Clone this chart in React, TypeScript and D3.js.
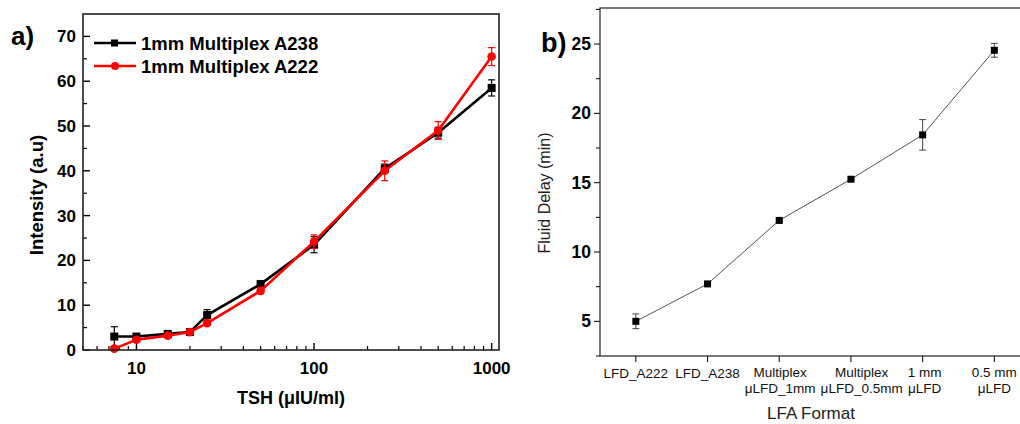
import { useEffect, useRef } from 'react';
import * as d3 from 'd3';

// panel a) TSH concentration vs intensity
const tsh = [7.5, 10, 15, 20, 25, 50, 100, 250, 500, 1000];
const a238 = [3.0, 3.0, 3.6, 4.0, 7.8, 14.7, 23.5, 40.5, 48.5, 58.5];
const a238Err = [2.2, 0.5, 0.5, 0.6, 1.2, 0.8, 1.8, 1.0, 1.2, 1.8];
const a222 = [0.3, 2.3, 3.2, 4.0, 6.0, 13.2, 24.2, 40.0, 49.0, 65.5];
const a222Err = [0.3, 0.5, 0.4, 0.5, 0.5, 0.6, 1.5, 2.2, 2.0, 2.0];
const seriesNames = ['1mm Multiplex A238', '1mm Multiplex A222'];
const xTicksA = [10, 100, 1000];
const yTicksA = [0, 10, 20, 30, 40, 50, 60, 70];

// panel b) fluid delay per LFA format
const formats = [
  ['LFD_A222'],
  ['LFD_A238'],
  ['Multiplex', 'μLFD_1mm'],
  ['Multiplex', 'μLFD_0.5mm'],
  ['1 mm', 'μLFD'],
  ['0.5 mm', 'μLFD'],
];
const delay = [5.0, 7.7, 12.28, 15.25, 18.45, 24.55];
const delayErr = [0.53, 0.1, 0.1, 0.1, 1.1, 0.5];
const yTicksB = [5, 10, 15, 20, 25];

const font = 'Arial, "Liberation Sans", sans-serif';

const App = () => {
  const svgRef = useRef(null);

  useEffect(() => {
    const svg = d3.select(svgRef.current);
    svg.selectAll('*').remove();

    // ---------- panel a ----------
    const x = d3.scaleLog().domain([5, 1100]).range([83, 499]);
    const y = d3.scaleLinear().domain([0, 75]).range([350, 14]);
    const ga = svg.append('g');

    // minor ticks (inward)
    const minorX: number[] = [];
    for (let dec = 1; dec <= 100; dec *= 10) {
      for (let m = 2; m < 10; m++) {
        const v = m * dec;
        if (v >= 5 && v <= 1100) minorX.push(v);
      }
    }
    ga.selectAll('.mx').data(minorX).enter().append('line')
      .attr('x1', d => x(d)).attr('x2', d => x(d))
      .attr('y1', 350).attr('y2', 346).attr('stroke', '#000').attr('stroke-width', 1.2);
    ga.selectAll('.Mx').data(xTicksA).enter().append('line')
      .attr('x1', d => x(d)).attr('x2', d => x(d))
      .attr('y1', 350).attr('y2', 343).attr('stroke', '#000').attr('stroke-width', 1.4);
    ga.selectAll('.my').data(d3.range(5, 75, 10)).enter().append('line')
      .attr('x1', 83).attr('x2', 87).attr('y1', d => y(d)).attr('y2', d => y(d))
      .attr('stroke', '#000').attr('stroke-width', 1.2);
    ga.selectAll('.My').data(yTicksA).enter().append('line')
      .attr('x1', 83).attr('x2', 90).attr('y1', d => y(d)).attr('y2', d => y(d))
      .attr('stroke', '#000').attr('stroke-width', 1.4);

    ga.selectAll('.xl').data(xTicksA).enter().append('text')
      .attr('x', d => x(d)).attr('y', 374).attr('text-anchor', 'middle')
      .attr('font-family', font).attr('font-weight', 'bold').attr('font-size', 17)
      .text(d => d);
    ga.selectAll('.yl').data(yTicksA).enter().append('text')
      .attr('x', 76).attr('y', d => y(d) + 6).attr('text-anchor', 'end')
      .attr('font-family', font).attr('font-weight', 'bold').attr('font-size', 17)
      .text(d => d);

    ga.append('text').attr('x', 291).attr('y', 404).attr('text-anchor', 'middle')
      .attr('font-family', font).attr('font-weight', 'bold').attr('font-size', 18)
      .text('TSH (μIU/ml)');
    ga.append('text').attr('transform', 'translate(43,195) rotate(-90)').attr('text-anchor', 'middle')
      .attr('font-family', font).attr('font-weight', 'bold').attr('font-size', 18.5)
      .text('Intensity (a.u)');
    ga.append('text').attr('x', 11).attr('y', 45)
      .attr('font-family', font).attr('font-weight', 'bold').attr('font-size', 26)
      .text('a)');

    const drawSeries = (vals: number[], errs: number[], color: string, marker: string) => {
      const line = d3.line<number>().x((_, i) => x(tsh[i])).y(d => y(d));
      ga.append('path').datum(vals).attr('d', line).attr('fill', 'none')
        .attr('stroke', color).attr('stroke-width', 2.6);
      const eg = ga.append('g').attr('stroke', color).attr('stroke-width', 1.2);
      vals.forEach((v, i) => {
        const cx = x(tsh[i]);
        eg.append('line').attr('x1', cx).attr('x2', cx).attr('y1', y(v - errs[i])).attr('y2', y(v + errs[i]));
        eg.append('line').attr('x1', cx - 3.5).attr('x2', cx + 3.5).attr('y1', y(v - errs[i])).attr('y2', y(v - errs[i]));
        eg.append('line').attr('x1', cx - 3.5).attr('x2', cx + 3.5).attr('y1', y(v + errs[i])).attr('y2', y(v + errs[i]));
      });
      if (marker === 'square') {
        ga.selectAll(null).data(vals).enter().append('rect')
          .attr('x', (_, i) => x(tsh[i]) - 4).attr('y', d => y(d) - 4)
          .attr('width', 8).attr('height', 8).attr('fill', color);
      } else {
        ga.selectAll(null).data(vals).enter().append('circle')
          .attr('cx', (_, i) => x(tsh[i])).attr('cy', d => y(d)).attr('r', 4.3).attr('fill', color);
      }
    };
    drawSeries(a238, a238Err, '#000', 'square');
    drawSeries(a222, a222Err, '#f00', 'circle');

    // legend
    const leg = [
      { name: seriesNames[0], color: '#000', marker: 'square' },
      { name: seriesNames[1], color: '#f00', marker: 'circle' },
    ];
    leg.forEach((l, i) => {
      const ly = 43 + i * 23;
      ga.append('line').attr('x1', 94).attr('x2', 136).attr('y1', ly).attr('y2', ly)
        .attr('stroke', l.color).attr('stroke-width', 2.6);
      if (l.marker === 'square') {
        ga.append('rect').attr('x', 111).attr('y', ly - 3.5).attr('width', 7).attr('height', 7).attr('fill', l.color);
      } else {
        ga.append('circle').attr('cx', 115).attr('cy', ly).attr('r', 4).attr('fill', l.color);
      }
      ga.append('text').attr('x', 141).attr('y', ly + 6.5)
        .attr('font-family', font).attr('font-weight', 'bold').attr('font-size', 18.5)
        .text(l.name);
    });

    ga.append('rect').attr('x', 83).attr('y', 14).attr('width', 416).attr('height', 336)
      .attr('fill', 'none').attr('stroke', '#222').attr('stroke-width', 1.6);

    // ---------- panel b ----------
    const xb = d3.scaleLinear().domain([-0.5, 6.5]).range([600, 600 + 7 * 71.7]);
    const yb = d3.scaleLinear().domain([2.5, 27.6]).range([356, 8]);
    const gb = svg.append('g');

    gb.selectAll('.xt').data(formats).enter().append('line')
      .attr('x1', (_, i) => xb(i)).attr('x2', (_, i) => xb(i))
      .attr('y1', 356).attr('y2', 362).attr('stroke', '#000').attr('stroke-width', 1);
    gb.selectAll('.ymt').data(d3.range(2.5, 27.6, 5)).enter().append('line')
      .attr('x1', 600).attr('x2', 596).attr('y1', d => yb(d)).attr('y2', d => yb(d))
      .attr('stroke', '#000').attr('stroke-width', 1);
    gb.selectAll('.yMt').data(yTicksB).enter().append('line')
      .attr('x1', 600).attr('x2', 594).attr('y1', d => yb(d)).attr('y2', d => yb(d))
      .attr('stroke', '#000').attr('stroke-width', 1);

    // category labels, nudged right when they would run into the previous one
    let prevRight = -Infinity;
    formats.forEach((lines, i) => {
      const t = gb.append('text').attr('text-anchor', 'middle')
        .attr('font-family', font).attr('font-size', 13.5).attr('fill', '#111');
      lines.forEach((s, j) => {
        t.append('tspan').attr('x', xb(i)).attr('y', lines.length > 1 ? 377 + j * 16 : 378).text(s);
      });
      const bb = (t.node() as SVGTextElement).getBBox();
      const shift = Math.max(0, prevRight + 5 - bb.x);
      if (shift > 0) t.attr('transform', `translate(${shift},0)`);
      prevRight = bb.x + bb.width + shift;
    });
    gb.selectAll('.ybl').data(yTicksB).enter().append('text')
      .attr('x', 591).attr('y', d => yb(d) + 6).attr('text-anchor', 'end')
      .attr('font-family', font).attr('font-weight', 'bold').attr('font-size', 17.5)
      .text(d => d);

    gb.append('text').attr('x', 811).attr('y', 419).attr('text-anchor', 'middle')
      .attr('font-family', font).attr('font-size', 17).attr('fill', '#222')
      .text('LFA Format');
    gb.append('text').attr('transform', 'translate(550,193) rotate(-90)').attr('text-anchor', 'middle')
      .attr('font-family', font).attr('font-size', 16).attr('fill', '#222')
      .text('Fluid Delay (min)');
    gb.append('text').attr('x', 541).attr('y', 52)
      .attr('font-family', font).attr('font-weight', 'bold').attr('font-size', 27)
      .text('b)');

    const lineB = d3.line<number>().x((_, i) => xb(i)).y(d => yb(d));
    gb.append('path').datum(delay).attr('d', lineB).attr('fill', 'none')
      .attr('stroke', '#555').attr('stroke-width', 1);
    const ebg = gb.append('g').attr('stroke', '#444').attr('stroke-width', 1);
    delay.forEach((v, i) => {
      const cx = xb(i);
      ebg.append('line').attr('x1', cx).attr('x2', cx).attr('y1', yb(v - delayErr[i])).attr('y2', yb(v + delayErr[i]));
      ebg.append('line').attr('x1', cx - 3.5).attr('x2', cx + 3.5).attr('y1', yb(v - delayErr[i])).attr('y2', yb(v - delayErr[i]));
      ebg.append('line').attr('x1', cx - 3.5).attr('x2', cx + 3.5).attr('y1', yb(v + delayErr[i])).attr('y2', yb(v + delayErr[i]));
    });
    gb.selectAll('.pt').data(delay).enter().append('rect')
      .attr('x', (_, i) => xb(i) - 3.5).attr('y', d => yb(d) - 3.5)
      .attr('width', 7).attr('height', 7).attr('fill', '#000');

    gb.append('rect').attr('x', 600).attr('y', 8).attr('width', 7 * 71.7).attr('height', 348)
      .attr('fill', 'none').attr('stroke', '#222').attr('stroke-width', 1.2);
  }, []);

  return (
    <svg ref={svgRef} width={1020} height={424}
      style={{ position: 'absolute', left: 0, top: 0, background: '#fff' }} />
  );
};

export default App;
